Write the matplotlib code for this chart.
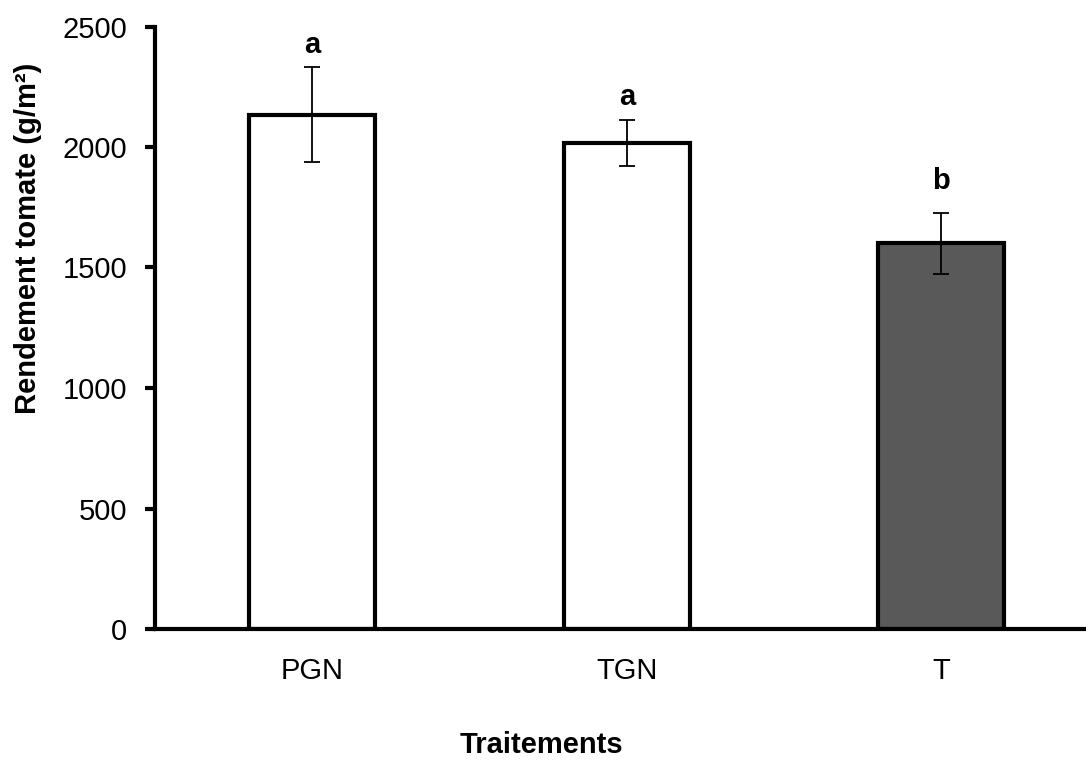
import matplotlib
matplotlib.use("Agg")
import matplotlib.pyplot as plt

categories = ["PGN", "TGN", "T"]
values = [2133, 2017, 1600]
errors = [197, 96, 127]
letters = ["a", "a", "b"]
letter_y = [2389, 2174, 1824]
colors = ["white", "white", "#595959"]
yticks = [0, 500, 1000, 1500, 2000, 2500]

plt.rcParams['font.family'] = ['Liberation Sans', 'DejaVu Sans']
FS = 21

fig = plt.figure(figsize=(10.86, 7.6), dpi=100)
ax = fig.add_axes([155/1086, 1 - 629/760, 1 - 155/1086, (629 - 26.5)/760])

x = list(range(len(categories)))
ax.bar(x, values, width=0.40, color=colors, edgecolor="black", linewidth=3, zorder=2)
ax.errorbar(x, values, yerr=errors, fmt="none", ecolor="black", elinewidth=1.3,
            capsize=6, capthick=1.3, zorder=3)
for xi, lab, ly in zip(x, letters, letter_y):
    ax.text(xi, ly, lab, ha="center", va="baseline", fontsize=FS, fontweight="bold")

ax.set_xlim(-0.5, 2.46)
ax.set_ylim(0, 2500)
ax.set_yticks(yticks)
ax.set_xticks(x)
ax.set_xticklabels(categories)
for s in ["top", "right"]:
    ax.spines[s].set_visible(False)
ax.spines["left"].set_linewidth(3)
ax.spines["bottom"].set_linewidth(3)
ax.tick_params(axis="y", direction="out", length=7, width=3, labelsize=FS, pad=13)
ax.tick_params(axis="x", length=0, labelsize=FS, pad=20)
fig.text(28/1086, 1 - 238/760, "Rendement tomate (g/m²)", rotation=90,
         ha="center", va="center", fontsize=FS, fontweight="bold")
fig.text(541/1086, 1 - 745/760, "Traitements", ha="center", va="center",
         fontsize=FS, fontweight="bold")

fig.savefig("out.png", dpi=100)
